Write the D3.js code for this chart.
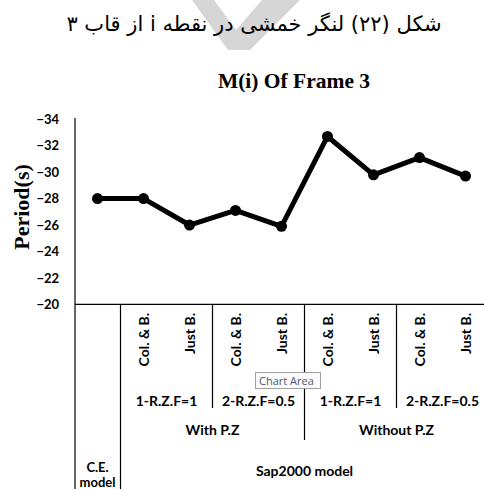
<!DOCTYPE html>
<html>
<head>
<meta charset="utf-8">
<script src="https://cdn.jsdelivr.net/npm/d3@7"></script>
<style>
  html, body { margin: 0; padding: 0; background: #fff; }
  svg { display: block; }
</style>
</head>
<body>
<div id="chart"></div>
<script>
// ---- data ----
const captionText = "شکل (۲۲) لنگر خمشی در نقطه i از قاب ۳";
const chartTitle = "M(i) Of Frame 3";
const yAxisTitle = "Period(s)";
const level1Labels = ["", "Col. & B.", "Just B.", "Col. & B.", "Just B.", "Col. & B.", "Just B.", "Col. & B.", "Just B."];
const level2Labels = ["1-R.Z.F=1", "2-R.Z.F=0.5", "1-R.Z.F=1", "2-R.Z.F=0.5"];
const level3Labels = ["With P.Z", "Without P.Z"];
const level4Labels = [["C.E.", "model"], ["Sap2000 model"]];
const values = [-28, -28, -26, -27.1, -25.9, -32.7, -29.8, -31.1, -29.7];
const yTicks = [-20, -22, -24, -26, -28, -30, -32, -34];

// ---- layout ----
const W = 484, H = 489;
const svg = d3.select("#chart").append("svg").attr("width", W).attr("height", H);
const labelFont = "Lato, 'Open Sans', sans-serif";

// watermark
svg.append("path")
  .attr("d", "M192,0 L214,0 L236,30 L262,0 L300,0 L250,50 L228,50 Z")
  .attr("fill", "#d6d6d6");

// caption
svg.append("text")
  .attr("x", 254).attr("y", 31)
  .attr("text-anchor", "middle")
  .attr("direction", "rtl")
  .style("font-family", "'DejaVu Sans', serif")
  .style("font-size", "21px")
  .attr("fill", "#000")
  .text(captionText);

// chart title
svg.append("text")
  .attr("x", 294).attr("y", 88)
  .attr("text-anchor", "middle")
  .style("font-family", "'Liberation Serif', serif")
  .style("font-weight", "bold")
  .style("font-size", "21.5px")
  .text(chartTitle);

const x = d3.scaleBand().domain(d3.range(values.length)).range([74.5, 488.5]).padding(0);
const y = d3.scaleLinear().domain([-20, -34]).range([304.3, 119.3]);
const cx = i => x(i) + x.bandwidth() / 2;

// y axis (labels only)
const yAxis = d3.axisLeft(y).tickValues(yTicks).tickSize(0).tickPadding(16).tickFormat(d3.format("d"));
const gy = svg.append("g").attr("transform", "translate(75,0)").call(yAxis);
gy.select(".domain").remove();
gy.selectAll("text")
  .style("font-family", labelFont)
  .style("font-weight", "bold")
  .style("font-size", "13px")
  .attr("fill", "#000");

// y axis title
svg.append("text")
  .attr("transform", "translate(29,207) rotate(-90)")
  .attr("text-anchor", "middle")
  .style("font-family", "'Liberation Serif', serif")
  .style("font-weight", "bold")
  .style("font-size", "22px")
  .text(yAxisTitle);

// axis lines
const axisG = svg.append("g").attr("stroke", "#000").attr("stroke-width", 1.2);
axisG.append("line").attr("x1", 75).attr("x2", 75).attr("y1", 118).attr("y2", H);
axisG.append("line").attr("x1", 75).attr("x2", W).attr("y1", y(-20)).attr("y2", y(-20));

// category separators
const sepDepth = [[1, H], [3, 408], [5, 440], [7, 408]];
sepDepth.forEach(([i, y2]) => {
  axisG.append("line").attr("x1", x(i)).attr("x2", x(i)).attr("y1", y(-20)).attr("y2", y2);
});

const catFontSize = "14px";

// level 1 labels (rotated)
svg.append("g").selectAll("text").data(level1Labels).join("text")
  .attr("transform", (d, i) => `translate(${cx(i) + 5},313) rotate(-90)`)
  .attr("text-anchor", "end")
  .style("font-family", labelFont)
  .style("font-weight", "bold")
  .style("font-size", catFontSize)
  .text(d => d);

// level 2 labels
svg.append("g").selectAll("text").data(level2Labels).join("text")
  .attr("x", (d, i) => (x(1 + 2 * i) + x(2 + 2 * i) + x.bandwidth()) / 2)
  .attr("y", 406)
  .attr("text-anchor", "middle")
  .style("font-family", labelFont)
  .style("font-weight", "bold")
  .style("font-size", catFontSize)
  .text(d => d);

// level 3 labels
svg.append("g").selectAll("text").data(level3Labels).join("text")
  .attr("x", (d, i) => (x(1 + 4 * i) + x(4 + 4 * i) + x.bandwidth()) / 2)
  .attr("y", 435)
  .attr("text-anchor", "middle")
  .style("font-family", labelFont)
  .style("font-weight", "bold")
  .style("font-size", catFontSize)
  .text(d => d);

// level 4 labels
const l4 = svg.append("g")
  .style("font-family", labelFont)
  .style("font-weight", "bold")
  .style("font-size", catFontSize)
  .attr("text-anchor", "middle");
l4.append("text").attr("x", cx(0)).attr("y", 472).style("font-size", "13px").text(level4Labels[0][0]);
l4.append("text").attr("x", cx(0)).attr("y", 487).style("font-size", "13px").text(level4Labels[0][1]);
l4.append("text").attr("x", (x(1) + x(8) + x.bandwidth()) / 2).attr("y", 476).text(level4Labels[1][0]);

// line + markers
const line = d3.line().x((d, i) => cx(i)).y(d => y(d));
svg.append("path").datum(values)
  .attr("d", line)
  .attr("fill", "none")
  .attr("stroke", "#000")
  .attr("stroke-width", 5)
  .attr("stroke-linejoin", "round");
svg.append("g").selectAll("circle").data(values).join("circle")
  .attr("cx", (d, i) => cx(i))
  .attr("cy", d => y(d))
  .attr("r", 5.5)
  .attr("fill", "#000");

// "Chart Area" tooltip
const tip = svg.append("g");
tip.append("rect").attr("x", 255.5).attr("y", 372.5).attr("width", 65).attr("height", 16)
  .attr("fill", "#fbfbfb").attr("stroke", "#a0a0a0").attr("stroke-width", 1);
tip.append("text").attr("x", 259).attr("y", 385)
  .style("font-family", "'Open Sans', sans-serif")
  .style("font-size", "11px")
  .attr("fill", "#4c5a78")
  .text("Chart Area");
</script>
</body>
</html>
